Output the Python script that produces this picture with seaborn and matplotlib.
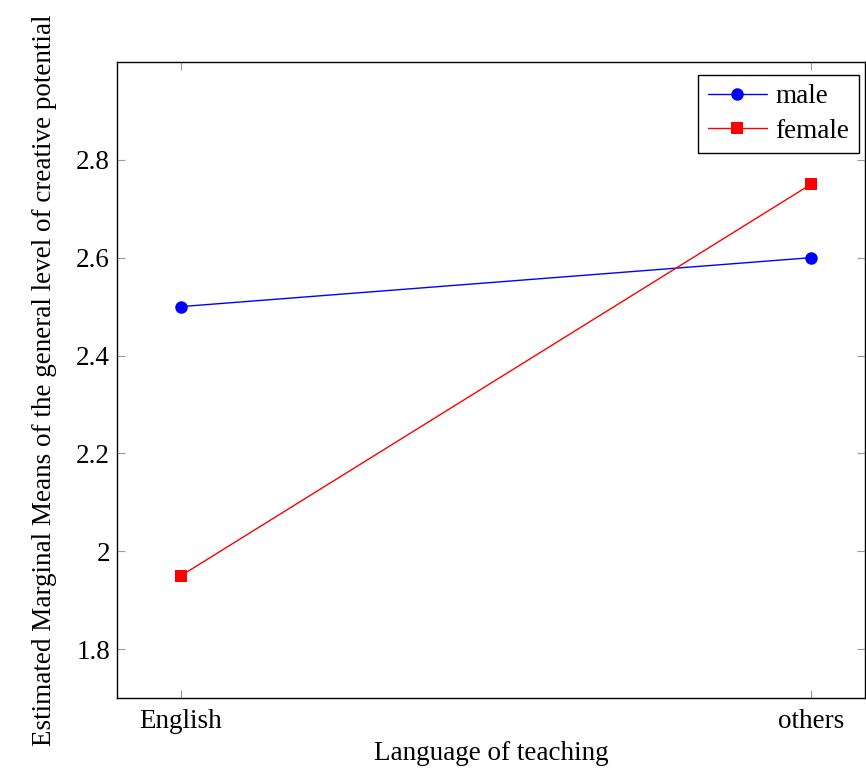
import matplotlib
matplotlib.use("Agg")
import matplotlib.pyplot as plt
import seaborn as sns
import pandas as pd

# data
languages = ["English", "others"]
male_means = [2.5, 2.6]
female_means = [1.95, 2.75]
y_ticks = [1.8, 2.0, 2.2, 2.4, 2.6, 2.8]
y_tick_labels = ["1.8", "2", "2.2", "2.4", "2.6", "2.8"]

df = pd.DataFrame({
    "language": languages * 2,
    "mean": male_means + female_means,
    "gender": ["male"] * len(languages) + ["female"] * len(languages),
})

sns.set_style("ticks")
plt.rcParams["font.family"] = ["Liberation Serif", "DejaVu Serif"]
plt.rcParams["text.color"] = "black"
plt.rcParams["axes.labelcolor"] = "black"
plt.rcParams["xtick.labelcolor"] = "black"
plt.rcParams["ytick.labelcolor"] = "black"

fig = plt.figure(figsize=(8.66, 7.71), dpi=100)
ax = fig.add_axes([0.1351, 0.0947, 0.8637, 0.8249])

sns.lineplot(data=df, x="language", y="mean", hue="gender", style="gender",
             markers={"male": "o", "female": "s"}, dashes=False,
             palette={"male": "blue", "female": "red"},
             markersize=9, linewidth=1.0, markeredgewidth=0, ax=ax)

ax.set_xlim(-0.1016, 1.0857)
ax.set_ylim(1.7, 3.0)
ax.set_yticks(y_ticks)
ax.set_yticklabels(y_tick_labels)
ax.set_xticks([0, 1])
ax.set_xticklabels(languages)
ax.tick_params(direction="in", length=6, width=0.8, color="#999999",
               labelsize=19.5, top=True, right=True, pad=5)
ax.tick_params(axis="x", pad=8)
for sp in ax.spines.values():
    sp.set_linewidth(1.0)
    sp.set_color("black")
    sp.set_visible(True)

ax.set_xlabel("Language of teaching", fontsize=19.5, labelpad=5)
ax.set_ylabel("Estimated Marginal Means of the general level of creative potential",
              fontsize=19.5, labelpad=14)

leg = ax.legend(loc="upper right", bbox_to_anchor=(0.9915, 0.98), fontsize=19.5,
                fancybox=False, framealpha=1, edgecolor="black",
                handlelength=2.2, borderpad=0.35, labelspacing=0.35,
                handletextpad=0.3, borderaxespad=0.0)
leg.get_frame().set_linewidth(1.0)

fig.savefig("out.png", dpi=100)
